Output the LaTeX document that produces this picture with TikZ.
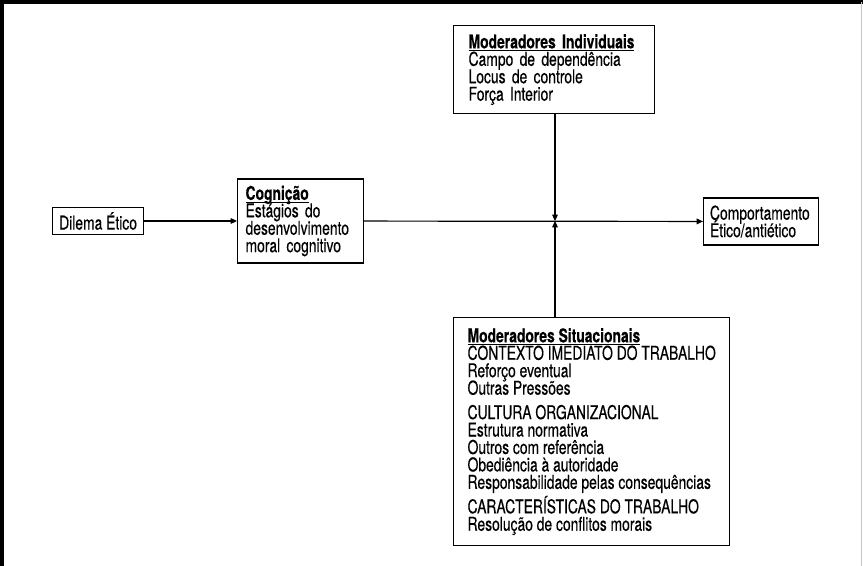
\documentclass[tikz,border=0pt]{standalone}
\usepackage{fontspec}
\setmainfont{TeX Gyre Heros}[FakeStretch=0.73, FakeBold=0.35]
\usepackage{xcolor}
\usepackage{tikz}
\usetikzlibrary{arrows.meta, positioning, calc}
\definecolor{frGrey}{HTML}{C4C4C4}
\newcommand{\modfont}{\fontsize{13.5pt}{12.4pt}\selectfont
  \lineskiplimit=-6pt\relax \hyphenpenalty=10000\relax}
\newcommand{\modhead}[1]{\underline{\smash{\textbf{#1}}}\vphantom{\textbf{#1}}}
\tikzset{
  modbox/.style={draw, line width=0.85pt, align=left, anchor=west, inner xsep=0pt,
                 font=\modfont},
  modflow/.style={line width=0.85pt, -{Triangle[length=4.5pt,width=4pt]}},
  modframe/.style={line width=2.2pt},
}

\begin{document}
\begin{tikzpicture}[x=0.025cm, y=-0.025cm]
\useasboundingbox (0,0) rectangle (863,566);
% moldura
\draw[modframe] (2,566) -- (2,2) -- (863,2);
\draw[frGrey, line width=0.5pt] (861,2) -- (861,566);

\coordinate (j) at (555,221);
\node[modbox, align=center, minimum width=2.275cm, minimum height=0.625cm] (dilema) at (52,221) {Dilema Ético};
\node[modbox, text width=2.75cm, inner xsep=0.2cm, minimum height=2.1cm] (cog) at (237,221)
  {\modhead{Cognição}\\ Estágios do\\ desenvolvimento\\ moral cognitivo};
\node[modbox, text width=2.55cm, inner xsep=0.16cm, minimum height=1.175cm] (comp) at (703,221.5)
  {Comportamento\\ Ético/antiético};
\node[modbox, anchor=north west, text width=4.275cm, inner xsep=0.375cm, minimum height=2.2cm] (indiv) at (453,25)
  {\modhead{Moderadores Individuais}\\ Campo de dependência\\ Locus de controle\\ Força Interior};
\node[modbox, anchor=north west, inner xsep=0.35cm, minimum height=5.7cm] (situ) at (453,317)
  {\modhead{Moderadores Situacionais}\\
   CONTEXTO IMEDIATO DO TRABALHO\\
   Reforço eventual\\
   Outras Pressões\\[5pt]
   CULTURA ORGANIZACIONAL\\
   Estrutura normativa\\
   Outros com referência\\
   Obediência à autoridade\\
   Responsabilidade pelas consequências\\[5pt]
   CARACTERÍSTICAS DO TRABALHO\\
   Resolução de conflitos morais};

\draw[modflow] (dilema) -- (cog);
\draw[modflow] (cog) -- (comp);
\draw[modflow] (indiv.south -| j) -- (j);
\draw[modflow] (situ.north -| j) -- (j);
\end{tikzpicture}
\end{document}
